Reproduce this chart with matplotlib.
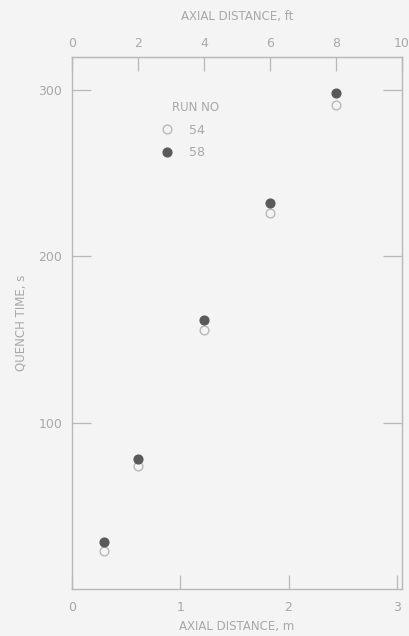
import matplotlib.pyplot as plt

# Data
distance_m = [0.30, 0.61, 1.22, 1.83, 2.44]
quench_run54 = [23, 74, 156, 226, 291]
quench_run58 = [28, 78, 162, 232, 298]
run_labels = ['54', '58']

ink = '#a8a8a8'
dark = '#5a5a5a'
bg = '#f4f4f4'

fig = plt.figure(figsize=(4.09, 6.36), dpi=100, facecolor=bg)
ax = fig.add_axes([0.176, 0.074, 0.807, 0.8365], facecolor=bg)

ax.plot(distance_m, quench_run54, 'o', ms=6.3, mfc='none', mec='#b8b8b8', mew=1.0,
        label=run_labels[0])
ax.plot(distance_m, quench_run58, 'o', ms=6.3, mfc=dark, mec=dark, mew=1.0,
        label=run_labels[1])

ax.set_xlim(0, 3.048)
ax.set_ylim(0, 320)
ax.set_xticks([0, 1, 2, 3])
ax.set_yticks([100, 200, 300])

for s in ax.spines.values():
    s.set_color('#b8b8b8')
    s.set_linewidth(1.0)

ax.tick_params(axis='x', direction='in', length=10, width=0.9, color='#b8b8b8',
               labelcolor=ink, labelsize=9, pad=9)
ax.tick_params(axis='y', direction='in', length=14, width=0.9, color='#b8b8b8',
               labelcolor=ink, labelsize=9, right=True, pad=7)

ax.set_xlabel('AXIAL DISTANCE, m', color=ink, fontsize=8.5, labelpad=4)
ax.set_ylabel('QUENCH TIME, s', color=ink, fontsize=8.5, labelpad=8)

# top axis in feet
top = ax.secondary_xaxis('top', functions=(lambda m: m * 3.28084, lambda f: f / 3.28084))
top.set_xticks([0, 2, 4, 6, 8, 10])
top.tick_params(direction='in', length=10, width=0.9, color='#b8b8b8',
                labelcolor=ink, labelsize=9, pad=5)
top.spines['top'].set_color('#b8b8b8')
top.set_xlabel('AXIAL DISTANCE, ft', color=ink, fontsize=8.5, labelpad=12)

ax.text(0.303, 0.904, 'RUN NO', transform=ax.transAxes, color=ink, fontsize=8.5,
        va='center', ha='left')
ax.legend(loc='upper left', bbox_to_anchor=(0.242, 0.891),
          frameon=False, fontsize=9, labelcolor=ink, handletextpad=1.25,
          handlelength=1.0, labelspacing=0.75, borderpad=0.2)

fig.savefig('out.png', dpi=100, facecolor=bg)
